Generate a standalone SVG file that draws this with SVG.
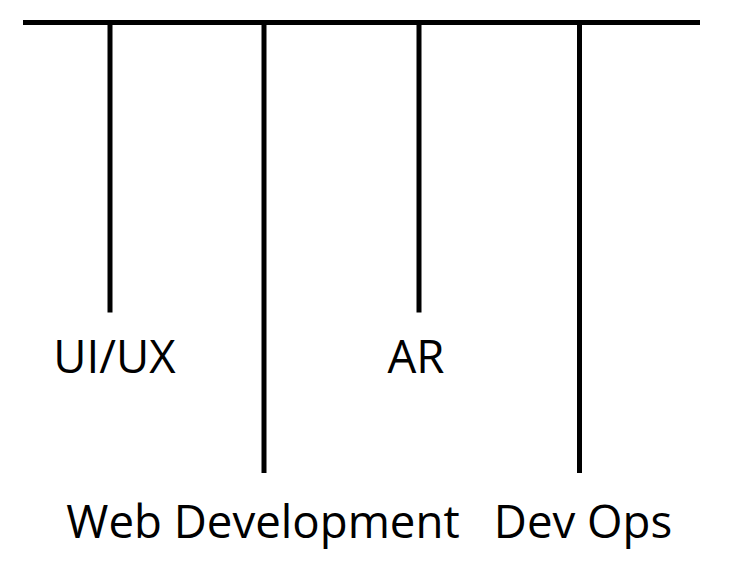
<svg xmlns="http://www.w3.org/2000/svg" width="756" height="588" viewBox="0 0 756 588">
<style>
.ln{stroke:#000;stroke-width:5;fill:none}
.lb{font-family:"Open Sans",sans-serif;font-size:45.6px;fill:#000;text-anchor:middle}
</style>
<rect width="756" height="588" fill="#fff"/>
<g id="connectors">
<line class="ln" x1="23" y1="22.5" x2="700" y2="22.5"/>
<line class="ln" x1="110" y1="22.5" x2="110" y2="312.5"/>
<line class="ln" x1="264" y1="22.5" x2="264" y2="473"/>
<line class="ln" x1="419" y1="22.5" x2="419" y2="312.5"/>
<line class="ln" x1="579.5" y1="22.5" x2="579.5" y2="473"/>
</g>
<g id="uiux"><text class="lb" x="114.5" y="373">UI/UX</text></g>
<g id="ar"><text class="lb" x="416" y="373">AR</text></g>
<g id="webdev"><text class="lb" x="263" y="538">Web Development</text></g>
<g id="devops"><text class="lb" x="583" y="538">Dev Ops</text></g>
</svg>
